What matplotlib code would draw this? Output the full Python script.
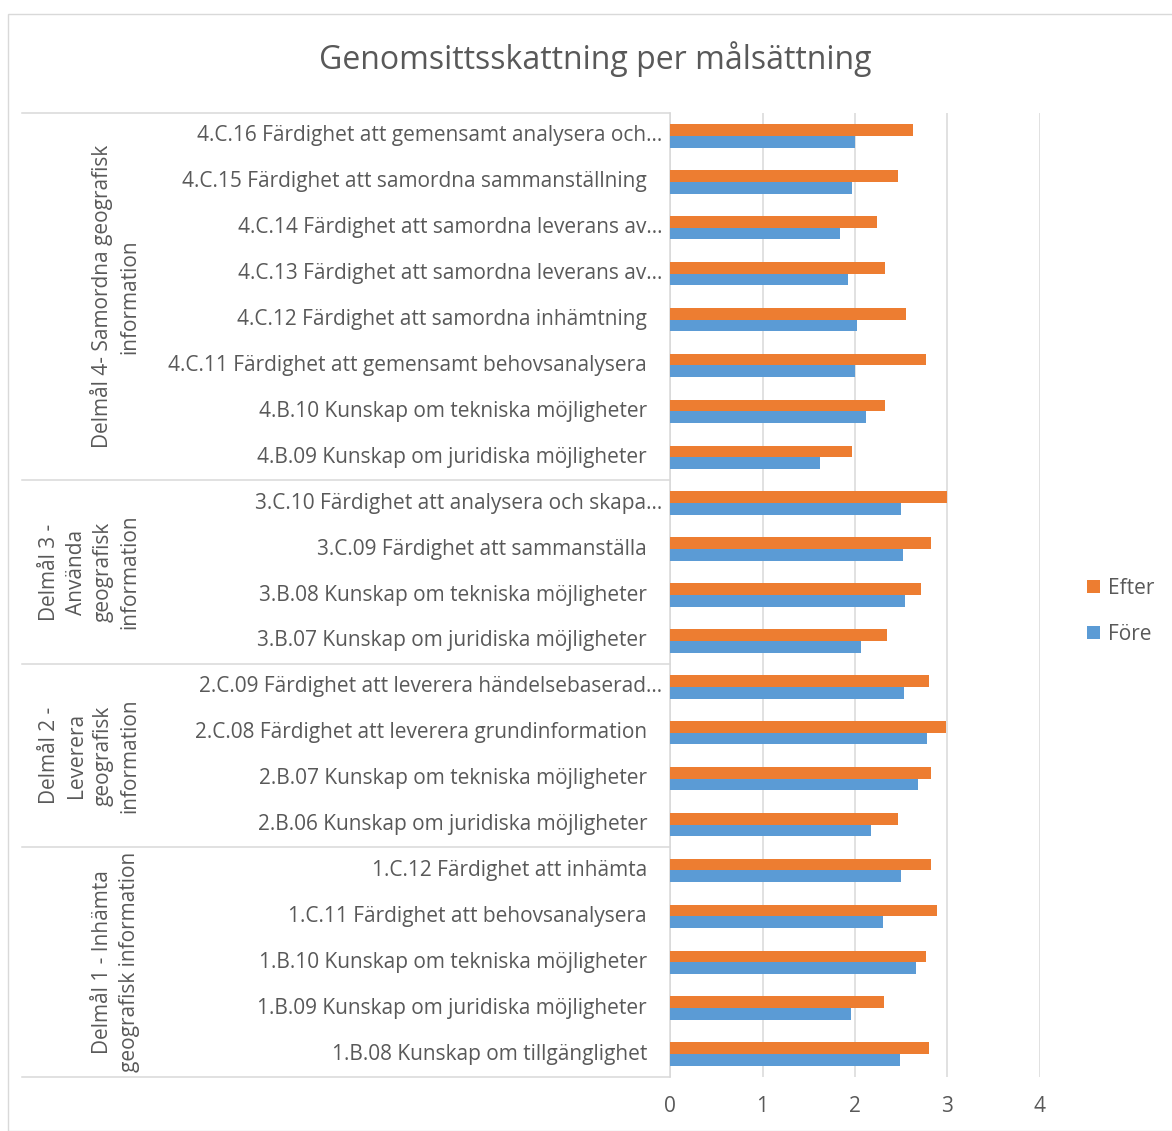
import matplotlib
matplotlib.use("Agg")
import matplotlib.pyplot as plt
from matplotlib.patches import Rectangle
from matplotlib.transforms import blended_transform_factory

plt.rcParams['font.family'] = ['Open Sans', 'DejaVu Sans']

title = "Genomsittsskattning per målsättning"

categories = [
    "4.C.16 Färdighet att gemensamt analysera och…",
    "4.C.15 Färdighet att samordna sammanställning",
    "4.C.14 Färdighet att samordna leverans av…",
    "4.C.13 Färdighet att samordna leverans av…",
    "4.C.12 Färdighet att samordna inhämtning",
    "4.C.11 Färdighet att gemensamt behovsanalysera",
    "4.B.10 Kunskap om tekniska möjligheter",
    "4.B.09 Kunskap om juridiska möjligheter",
    "3.C.10 Färdighet att analysera och skapa…",
    "3.C.09 Färdighet att sammanställa",
    "3.B.08 Kunskap om tekniska möjligheter",
    "3.B.07 Kunskap om juridiska möjligheter",
    "2.C.09 Färdighet att leverera händelsebaserad…",
    "2.C.08 Färdighet att leverera grundinformation",
    "2.B.07 Kunskap om tekniska möjligheter",
    "2.B.06 Kunskap om juridiska möjligheter",
    "1.C.12 Färdighet att inhämta",
    "1.C.11 Färdighet att behovsanalysera",
    "1.B.10 Kunskap om tekniska möjligheter",
    "1.B.09 Kunskap om juridiska möjligheter",
    "1.B.08 Kunskap om tillgänglighet",
]

efter = [2.63, 2.47, 2.24, 2.32, 2.55, 2.77, 2.32, 1.97,
         3.00, 2.82, 2.71, 2.35,
         2.80, 2.98, 2.82, 2.47,
         2.82, 2.89, 2.77, 2.31, 2.80]
fore = [2.00, 1.97, 1.84, 1.92, 2.02, 2.00, 2.12, 1.62,
        2.50, 2.52, 2.54, 2.07,
        2.53, 2.78, 2.68, 2.17,
        2.50, 2.30, 2.66, 1.96, 2.49]

group_labels = [
    "Delmål 4- Samordna geografisk\ninformation",
    "Delmål 3 -\nAnvända\ngeografisk\ninformation",
    "Delmål 2 -\nLeverera\ngeografisk\ninformation",
    "Delmål 1 - Inhämta\ngeografisk information",
]
group_sizes = [8, 4, 4, 5]

x_ticks = [0, 1, 2, 3, 4]

ORANGE = "#ED7D31"
BLUE = "#5B9BD5"
TXT = "#595959"
GRID = "#D9D9D9"
FS = 15

W, H = 1172, 1131
fig = plt.figure(figsize=(W / 100, H / 100), dpi=100)

# outer chart border
fig.patches.append(Rectangle((8 / W, 0), 1.2, (H - 14) / H, transform=fig.transFigure,
                             fill=False, edgecolor=GRID, linewidth=1.0))

ax_l, ax_r, ax_t, ax_b = 670, 1040, 113, 1077
ax = fig.add_axes([ax_l / W, 1 - ax_b / H, (ax_r - ax_l) / W, (ax_b - ax_t) / H])

n = len(categories)
ypos = list(range(n))
bh = 0.255
ax.barh([y - bh / 2 for y in ypos], efter, height=bh, color=ORANGE, label="Efter", zorder=3)
ax.barh([y + bh / 2 for y in ypos], fore, height=bh, color=BLUE, label="Före", zorder=3)

ax.set_ylim(n - 0.5, -0.5)
ax.set_xlim(0, 4)
ax.set_xticks(x_ticks)
ax.set_xticklabels([str(t) for t in x_ticks])
ax.tick_params(axis='x', length=0, pad=14, labelsize=FS, labelcolor=TXT)
ax.set_yticks([])
ax.xaxis.grid(True, color=GRID, linewidth=1.1, zorder=0)
ax.set_axisbelow(True)
for s in ['top', 'right', 'bottom']:
    ax.spines[s].set_visible(False)
ax.spines['left'].set_color(GRID)
ax.spines['left'].set_linewidth(1.1)

axw = ax_r - ax_l
tr = blended_transform_factory(ax.transAxes, ax.transData)
for y, lab in zip(ypos, categories):
    xr = (662 - ax_l) / axw if lab.endswith("…") else (647 - ax_l) / axw
    ax.text(xr, y, lab, transform=tr, ha='right', va='center', fontsize=FS,
            color=TXT, clip_on=False)

# group boundaries and labels
bounds = [-0.5]
for s in group_sizes:
    bounds.append(bounds[-1] + s)
x_line0 = (22 - ax_l) / axw
for b in bounds:
    ax.plot([x_line0, 0], [b, b], transform=tr, color=GRID, linewidth=1.1, clip_on=False)
for i, lab in enumerate(group_labels):
    yc = (bounds[i] + bounds[i + 1]) / 2
    ax.text((140 - ax_l) / axw, yc, lab, transform=tr, rotation=90, ha='right', va='center',
            multialignment='center', fontsize=FS, color=TXT, clip_on=False, linespacing=1.35)

fig.text(595 / W, 1 - 59 / H, title, ha='center', va='center', fontsize=23, color=TXT)

handles, labels = ax.get_legend_handles_labels()
leg = fig.legend(handles, labels, loc='center left', bbox_to_anchor=(1079 / W, 1 - 611 / H),
                 frameon=False, fontsize=FS, labelcolor=TXT, handlelength=0.6, handleheight=0.6,
                 handletextpad=0.4, labelspacing=1.2, borderaxespad=0)

fig.savefig("out.png", dpi=100)
